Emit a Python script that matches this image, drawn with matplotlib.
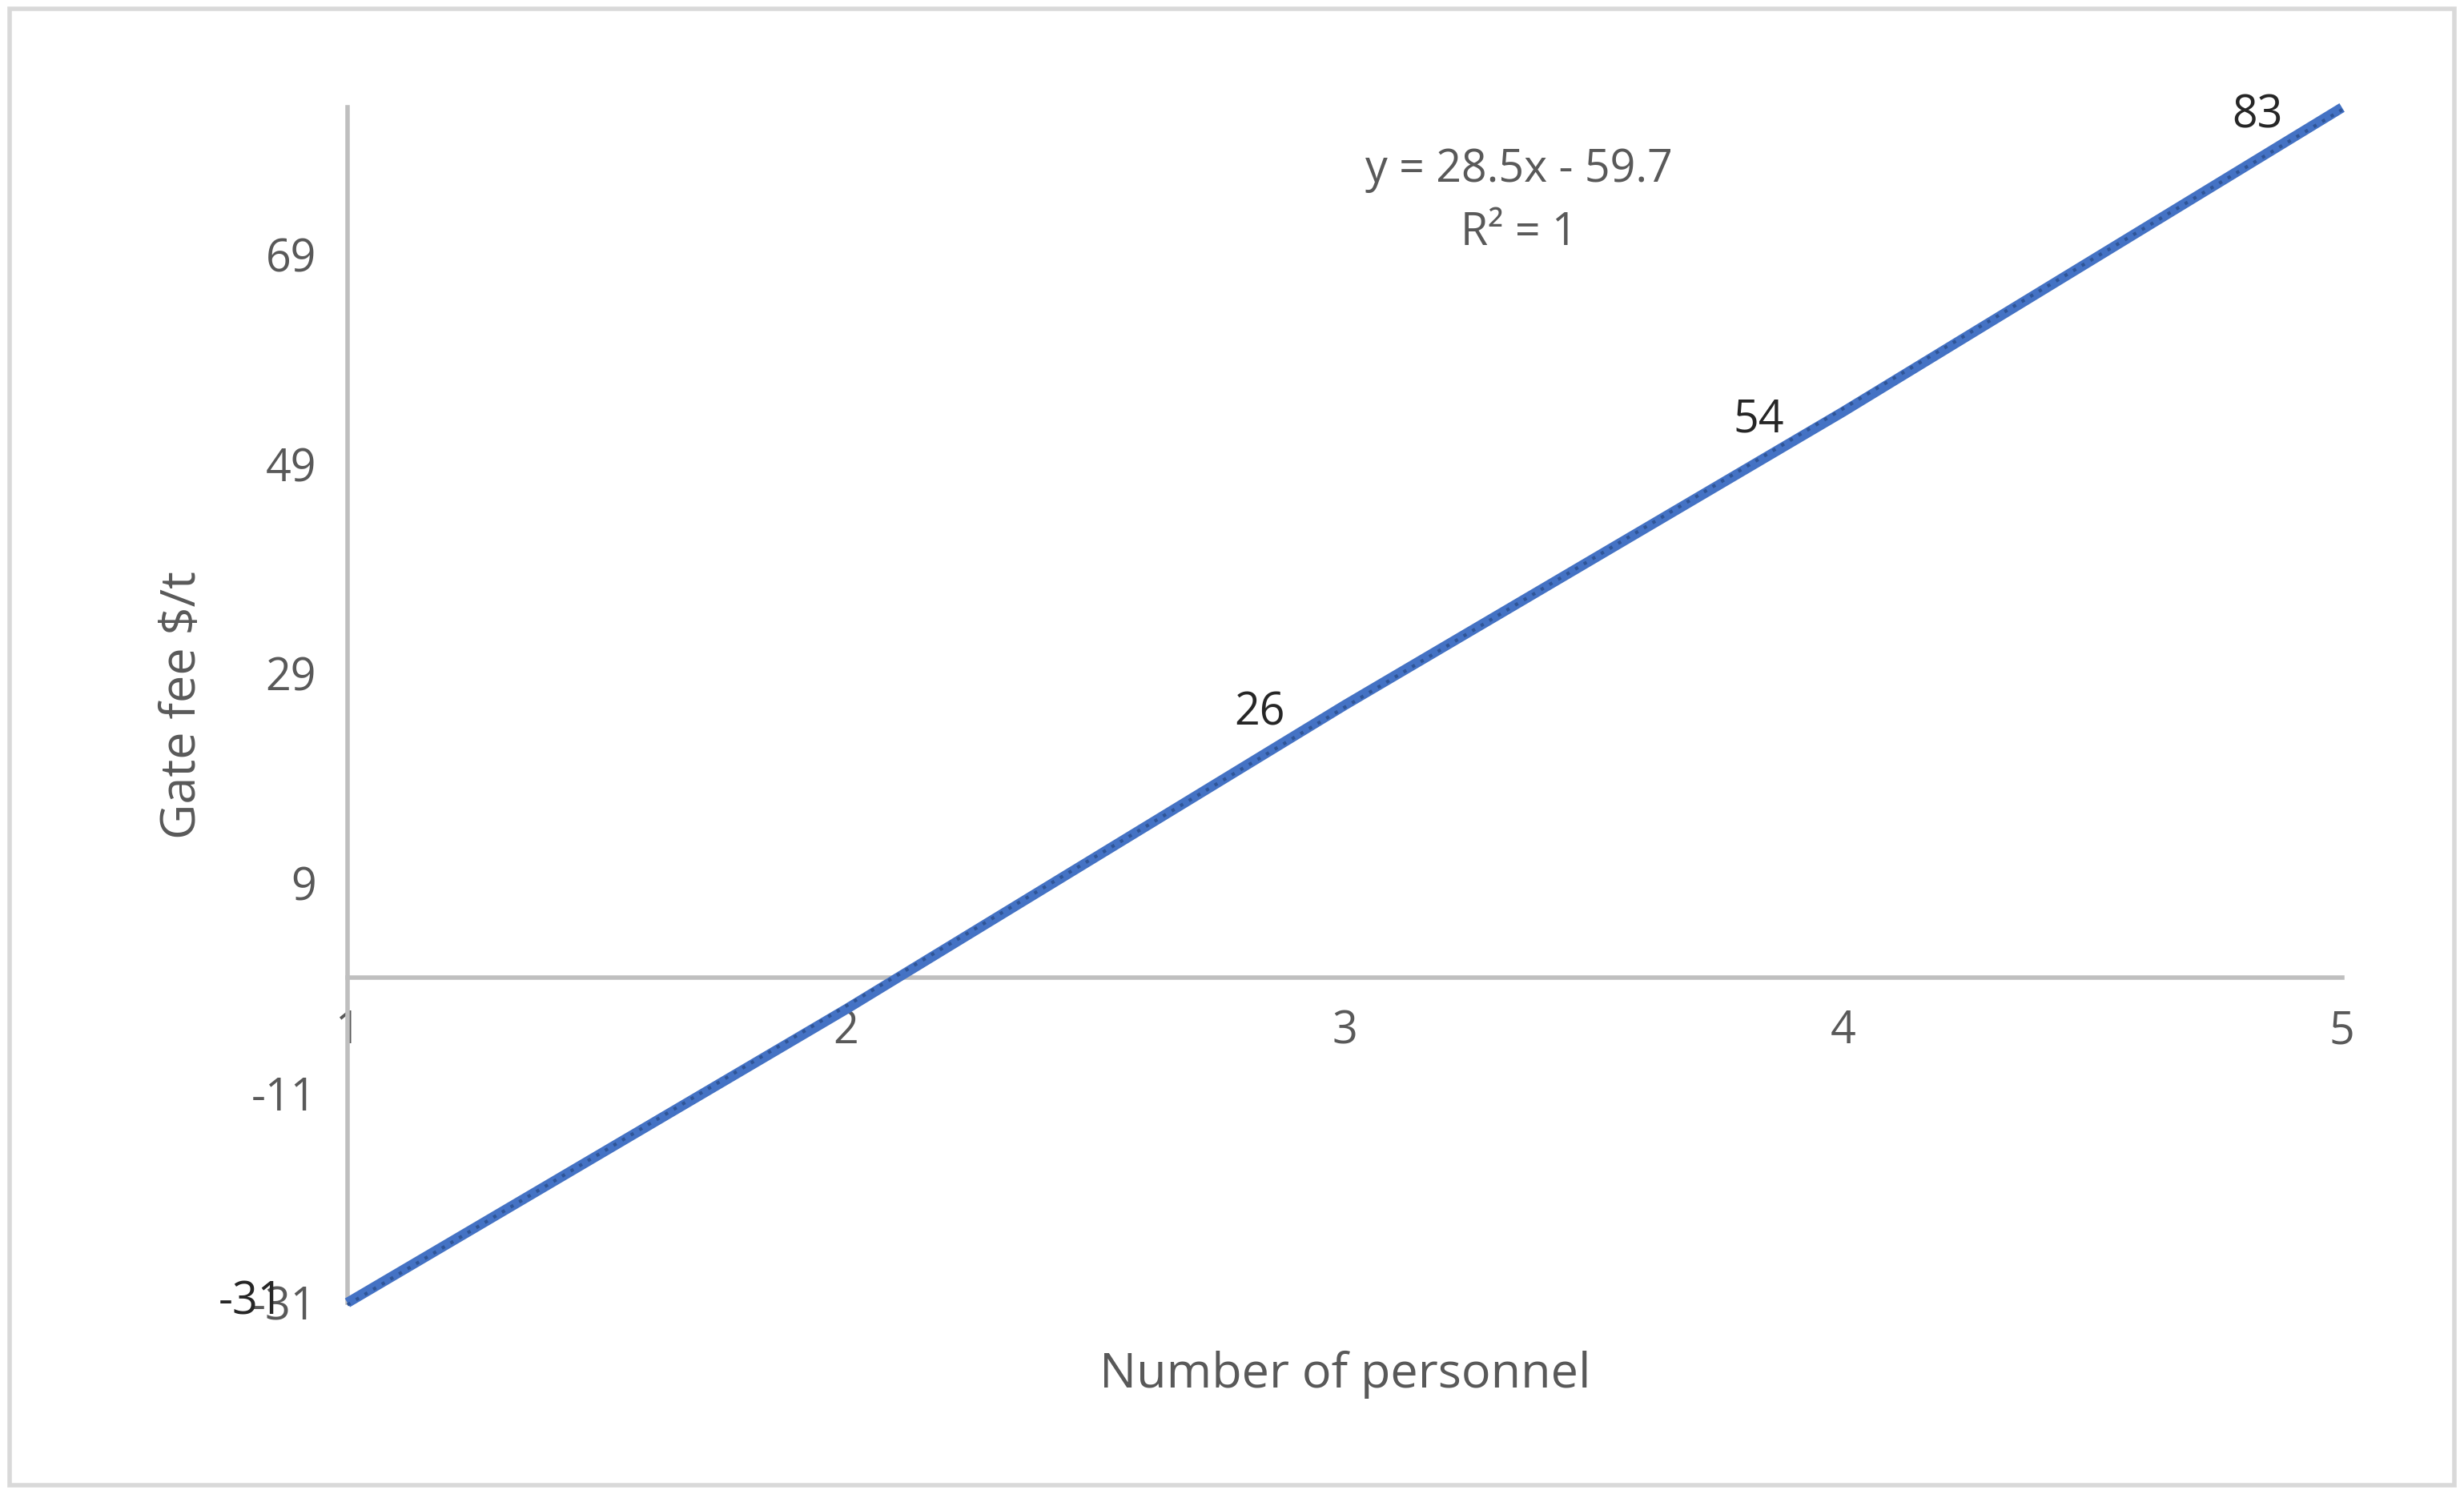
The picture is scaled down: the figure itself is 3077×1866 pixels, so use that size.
import matplotlib
matplotlib.use("Agg")
import matplotlib.pyplot as plt
import numpy as np

personnel = [1, 2, 3, 4, 5]
gate_fee = [-31, -3, 26, 54, 83]
labels_shown = [False, False, True, True, True]
y_ticks = [-31, -11, 9, 29, 49, 69]
x_ticks = [1, 2, 3, 4, 5]
slope, intercept = 28.5, -59.7

plt.rcParams['font.family'] = ['Open Sans', 'DejaVu Sans']
plt.rcParams['axes.unicode_minus'] = False
fig = plt.figure(figsize=(3077/200, 1866/200), dpi=200)
ax = fig.add_axes([0.141, 0.128, 0.8095, 0.80])
grey = '#595959'
ax.plot(personnel, gate_fee, color='#4472C4', lw=4.5, solid_capstyle='butt', zorder=3, clip_on=False)
xs = np.array([1, 5])
ax.plot(xs, slope*xs+intercept, color='#2F5597', lw=1.5, ls=(0, (1, 2)), zorder=4, clip_on=False)
for x, y, s in zip(personnel, gate_fee, labels_shown):
    if s:
        ax.text(x-0.17, y-0.8, f"{y}", fontsize=20, color='#262626', ha='center', va='center')
ax.text(-0.032, -31, "-31", fontsize=20, color='#262626', ha='right', va='center',
        transform=matplotlib.transforms.blended_transform_factory(ax.transAxes, ax.transData))
ax.text(3.35, 74, "y = 28.5x - 59.7\nR² = 1", fontsize=20, color=grey, ha='center', va='center', linespacing=1.5)
ax.set_xlim(1, 5)
ax.set_ylim(-31, 83)
ax.set_xticks(x_ticks)
ax.set_yticks(y_ticks)
ax.tick_params(axis='both', length=0, labelsize=20, labelcolor=grey, pad=14)
for s in ['top', 'right']:
    ax.spines[s].set_visible(False)
ax.spines['bottom'].set_position(('data', 0))
for s in ['bottom', 'left']:
    ax.spines[s].set_color('#BFBFBF')
    ax.spines[s].set_linewidth(2)
ax.set_xlabel("Number of personnel", fontsize=22, color=grey, labelpad=0)
ax.xaxis.set_label_coords(0.5, -0.04)
ax.set_ylabel("Gate fee $/t", fontsize=22, color=grey, labelpad=20)
fig.patches.append(plt.Rectangle((0.004, 0.006), 0.992, 0.988, transform=fig.transFigure,
                                 fill=False, edgecolor='#D9D9D9', lw=2))
fig.savefig("out.png", dpi=200, facecolor='white')
